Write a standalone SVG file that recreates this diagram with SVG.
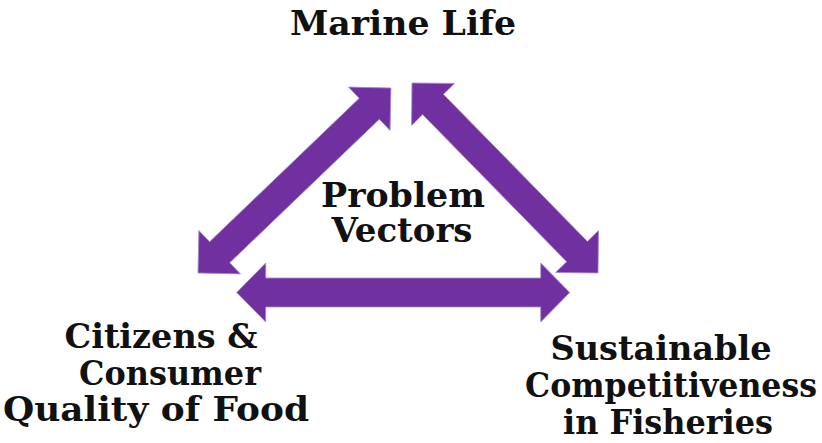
<svg xmlns="http://www.w3.org/2000/svg" width="822" height="443" viewBox="0 0 822 443">
<defs>
<style>
.lbl{font-family:"DejaVu Serif","Liberation Serif",serif;font-weight:bold;font-size:34px;fill:#111;text-anchor:middle}
.arr{fill:#7030A0;stroke:#a58cc8;stroke-width:0.8}
</style>
</defs>
<rect width="822" height="443" fill="#fff"/>
<g id="connectors">
<path class="arr" transform="translate(236.7,292.5)" d="M0,0 L29,-29.5 L29,-14.5 L304,-14.5 L304,-29.5 L333,0 L304,29.5 L304,14.5 L29,14.5 L29,29.5 Z"/>
<path class="arr" transform="translate(198,273) rotate(-43.8)" d="M0,0 L30,-30 L30,-14.5 L237.3,-14.5 L237.3,-30 L267.3,0 L237.3,30 L237.3,14.5 L30,14.5 L30,30 Z"/>
<path class="arr" transform="translate(412,83) rotate(45.6)" d="M0,0 L30,-30 L30,-14.5 L235.9,-14.5 L235.9,-30 L265.9,0 L235.9,30 L235.9,14.5 L30,14.5 L30,30 Z"/>
</g>
<g id="marine-life"><text class="lbl" x="403" y="35" textLength="226" lengthAdjust="spacingAndGlyphs">Marine Life</text></g>
<g id="problem-vectors"><text class="lbl" x="403" y="207" textLength="164" lengthAdjust="spacingAndGlyphs">Problem</text><text class="lbl" x="402" y="242" textLength="141" lengthAdjust="spacingAndGlyphs">Vectors</text></g>
<g id="citizens"><text class="lbl" x="161" y="348" textLength="193" lengthAdjust="spacingAndGlyphs">Citizens &amp;</text><text class="lbl" x="170" y="385" textLength="182" lengthAdjust="spacingAndGlyphs">Consumer</text><text class="lbl" x="156" y="421" textLength="306" lengthAdjust="spacingAndGlyphs">Quality of Food</text></g>
<g id="fisheries"><text class="lbl" x="661" y="360" textLength="221" lengthAdjust="spacingAndGlyphs">Sustainable</text><text class="lbl" x="671" y="397" textLength="292" lengthAdjust="spacingAndGlyphs">Competitiveness</text><text class="lbl" x="668" y="434" textLength="210" lengthAdjust="spacingAndGlyphs">in Fisheries</text></g>
</svg>
